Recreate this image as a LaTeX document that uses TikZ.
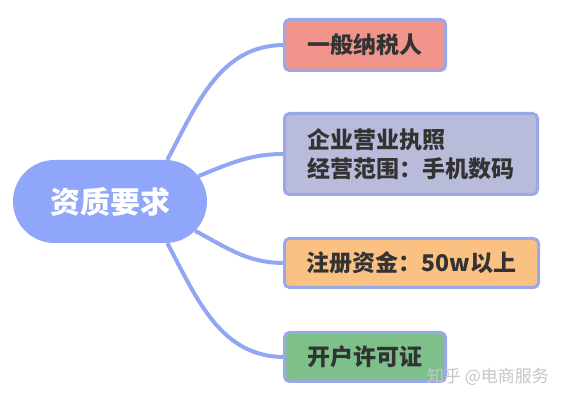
\documentclass[tikz,border=0pt]{standalone}
\usepackage{fontspec}
\setmainfont{Noto Sans CJK SC}
\usetikzlibrary{shapes.misc}
\definecolor{corefill}{RGB}{143,166,250}
\definecolor{branchline}{RGB}{146,166,243}
\definecolor{boxline}{RGB}{155,168,232}
\definecolor{taxfill}{RGB}{241,148,139}
\definecolor{licfill}{RGB}{185,187,218}
\definecolor{capfill}{RGB}{251,193,130}
\definecolor{acctfill}{RGB}{125,192,138}
\definecolor{boxtext}{RGB}{51,51,51}

\begin{document}
\begin{tikzpicture}[x=1pt,y=1pt,
    core/.style={rounded rectangle,fill=corefill,text=white,
      minimum width=194pt,minimum height=83pt,inner sep=0pt,
      font=\fontsize{30}{34}\selectfont\bfseries},
    leaf/.style={draw=boxline,line width=3pt,rounded corners=5pt,
      text=boxtext,inner sep=0pt,align=left,
      font=\fontsize{23}{29}\selectfont\bfseries},
    branch/.style={draw=branchline,line width=4pt}]
  \useasboundingbox (0,0) rectangle (564,401);
  \fill[white] (0,0) rectangle (564,401);
    % branch lines go first, boxes cover their ends
    \node[core] (quals) at (110,199.5) {资质要求};
    \coordinate (t1) at (284.5,356);
    \coordinate (t2) at (284.5,247);
    \coordinate (t3) at (284.5,138);
    \coordinate (t4) at (284.5,44);
    \draw[branch] (quals.36) to[out=62,in=180] (t1);
    \draw[branch] (quals.16) to[out=22,in=180] (t2);
    \draw[branch] (quals.-19) to[out=-28,in=180] (t3);
    \draw[branch] (quals.-36) to[out=-62,in=180] (t4);
    \node[leaf,fill=taxfill,minimum width=161pt,minimum height=51pt]
      (taxpayer) at (365,356) {一般纳税人};
    \node[leaf,fill=licfill,minimum width=253pt,minimum height=81pt]
      (license) at (411,247) {企业营业执照\\经营范围：手机数码};
    \node[leaf,fill=capfill,minimum width=254pt,minimum height=49pt]
      (capital) at (411.5,138) {注册资金：50w以上};
    \node[leaf,fill=acctfill,minimum width=161pt,minimum height=49pt]
      (account) at (365,44) {开户许可证};
    \node[text=gray!45,font=\fontsize{17}{19}\selectfont]
      (mark) at (488,24) {知乎 @电商服务};
  \end{tikzpicture}
\end{document}
